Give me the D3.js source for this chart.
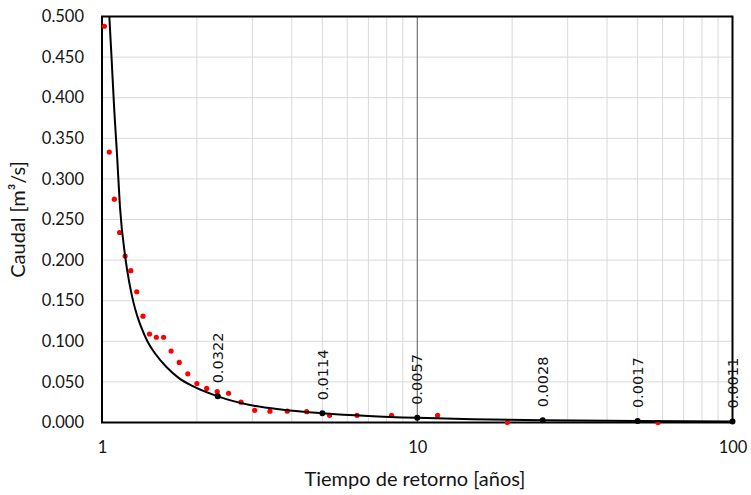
<!DOCTYPE html>
<html><head><meta charset="utf-8">
<script src="https://cdn.jsdelivr.net/npm/d3@7"></script>
<style>body{margin:0;background:#fff}</style>
</head><body><svg id="c" width="751" height="495"></svg>
<script>
// Observed flows (return period in years, flow in m3/s)
const obsT = [1.0175,1.0545,1.094,1.137,1.184,1.234,1.289,1.349,1.415,1.487,1.568,1.657,1.758,1.871,2.0,2.148,2.32,2.52,2.76,3.05,3.41,3.87,4.46,5.27,6.44,8.29,11.6,19.33,58];
const obsQ = [0.488,0.333,0.275,0.234,0.205,0.187,0.161,0.131,0.109,0.105,0.105,0.088,0.074,0.060,0.048,0.042,0.038,0.036,0.025,0.015,0.014,0.014,0.0133,0.0088,0.0088,0.0088,0.0088,0.0,0.0];
// Fitted curve
const fitT = [1.055,1.073,1.094,1.116,1.14,1.184,1.221,1.26,1.294,1.33,1.393,1.48,1.604,1.75,1.949,2.33,2.948,3.75,5,7,10,15,25,50,100];
const fitQ = [0.500,0.447,0.384,0.330,0.266,0.205,0.172,0.147,0.131,0.118,0.100,0.084,0.068,0.055,0.0444,0.0322,0.0215,0.0157,0.0114,0.0080,0.0057,0.0040,0.0028,0.0017,0.0011];
// Labelled design points
const markT = [2.33,5,10,25,50,100];
const markQ = [0.0322,0.0114,0.0057,0.0028,0.0017,0.0011];
const markLabels = ["0.0322","0.0114","0.0057","0.0028","0.0017","0.0011"];
const yTicks = [0,0.05,0.1,0.15,0.2,0.25,0.3,0.35,0.4,0.45,0.5];
const xTicks = [1,10,100];
const xTitle = "Tiempo de retorno [años]";
const yTitle = "Caudal [m³/s]";

const L = 102, R = 732.5, T = 16.5, B = 422.5;
const svg = d3.select("#c");
const x = d3.scaleLog().domain([1,100]).range([L,R]);
const y = d3.scaleLinear().domain([0,0.5]).range([B,T]);
const uiFont = "Lato, 'Open Sans', sans-serif";
const txt = "#141414";

// grid
const g = svg.append("g");
g.selectAll("line.h").data(yTicks).join("line")
  .attr("x1",L).attr("x2",R).attr("y1",d=>y(d)).attr("y2",d=>y(d))
  .attr("stroke","#d9d9d9").attr("stroke-width",1);
const minor = x.ticks().filter(d => ![1,10,100].includes(d));
g.selectAll("line.v").data(minor).join("line")
  .attr("x1",d=>x(d)).attr("x2",d=>x(d)).attr("y1",T).attr("y2",B)
  .attr("stroke","#d9d9d9").attr("stroke-width",1);
g.append("line").attr("x1",x(10)).attr("x2",x(10)).attr("y1",T).attr("y2",B)
  .attr("stroke","#555").attr("stroke-width",1);

// border
svg.append("rect").attr("x",L).attr("y",T).attr("width",R-L).attr("height",B-T)
  .attr("fill","none").attr("stroke","#000").attr("stroke-width",2);

// axes labels
const yAxis = d3.axisLeft(y).tickValues(yTicks).tickFormat(d3.format(".3f")).tickSize(0).tickPadding(18);
const ya = svg.append("g").attr("transform",`translate(${L},0)`).call(yAxis);
ya.select(".domain").remove();
ya.selectAll("text").attr("font-family",uiFont).attr("font-size",16.5).attr("fill",txt);

const xAxis = d3.axisBottom(x).tickValues(xTicks).tickFormat(d3.format("d")).tickSize(0).tickPadding(19);
const xa = svg.append("g").attr("transform",`translate(0,${B})`).call(xAxis);
xa.select(".domain").remove();
xa.selectAll("text").attr("font-family",uiFont).attr("font-size",16.5).attr("fill",txt);

svg.append("text").attr("x",415).attr("y",486).attr("text-anchor","middle")
  .attr("font-family",uiFont).attr("font-size",20).attr("fill",txt).text(xTitle);
svg.append("text").attr("transform",`translate(25,${(T+B)/2}) rotate(-90)`).attr("text-anchor","middle")
  .attr("font-family",uiFont).attr("font-size",20).attr("fill",txt).text(yTitle);

// observed points
svg.append("g").selectAll("circle").data(obsT).join("circle")
  .attr("cx",d=>x(d)).attr("cy",(d,i)=>y(obsQ[i])).attr("r",2.6).attr("fill","#ff0000");

// fitted curve
const line = d3.line().x(d=>x(d)).y((d,i)=>y(fitQ[i])).curve(d3.curveMonotoneX);
svg.append("path").datum(fitT).attr("d",line).attr("fill","none").attr("stroke","#000").attr("stroke-width",2);

// marks
svg.append("g").selectAll("circle").data(markT).join("circle")
  .attr("cx",d=>x(d)).attr("cy",(d,i)=>y(markQ[i])).attr("r",3).attr("fill","#000");
svg.append("g").selectAll("text").data(markT).join("text")
  .attr("transform",(d,i)=>`translate(${x(d)},${y(markQ[i])-13}) rotate(-90)`)
  .attr("dy","0.36em").attr("font-family","'DejaVu Sans', sans-serif").attr("font-size",14.5)
  .attr("fill",txt).text((d,i)=>markLabels[i]);
</script></body></html>
